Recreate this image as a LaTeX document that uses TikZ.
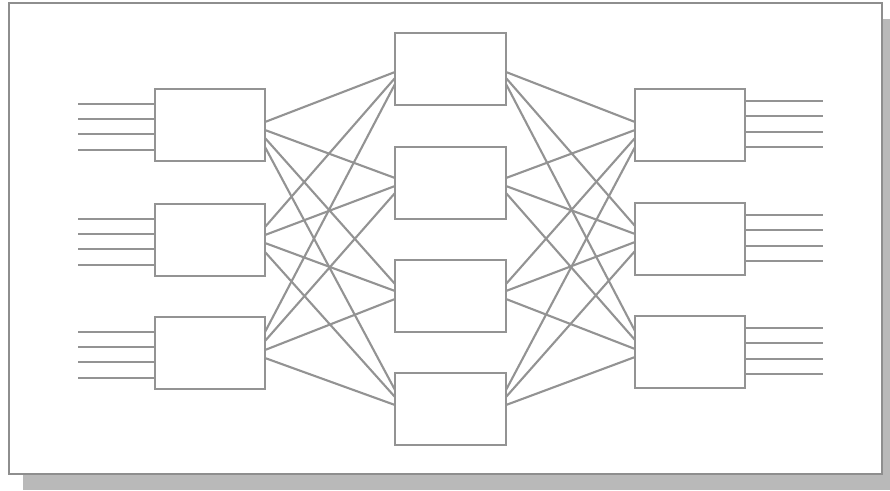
\documentclass[tikz,border=0pt]{standalone}
\usetikzlibrary{calc}
\definecolor{linegray}{HTML}{939393}
\definecolor{framegray}{HTML}{8E8E8E}
\definecolor{shadowgray}{HTML}{B9B9B9}
\begin{document}
\begin{tikzpicture}[x=1pt,y=-1pt,
  sw/.style={draw=linegray,line width=2.3pt,fill=white,rectangle,inner sep=0pt,outer sep=0pt,anchor=north west,minimum height=72pt},
  sidebox/.style={sw,minimum width=110pt},
  midbox/.style={sw,minimum width=111pt},
  wire/.style={draw=linegray,line width=2.1pt}]
\useasboundingbox (0,0) rectangle (890,490);
\fill[shadowgray] (23,19) rectangle (890,490);
\draw[framegray,line width=2.4pt,fill=white] (9,3) rectangle (882,474);
% boxes
\node[sidebox] (L1) at (155,89) {};
\node[sidebox] (L2) at (155,204) {};
\node[sidebox] (L3) at (155,317) {};
\node[midbox] (M1) at (395,33) {};
\node[midbox] (M2) at (395,147) {};
\node[midbox] (M3) at (395,260) {};
\node[midbox] (M4) at (395,373) {};
\node[sidebox] (R1) at (635,89) {};
\node[sidebox] (R2) at (635,203) {};
\node[sidebox] (R3) at (635,316) {};
% input / output lines
\foreach \b in {L1,L2,L3}{
  \foreach \o in {15,30,45,61}{
    \draw[wire] ([yshift=-\o pt]\b.north west) -- ++(-77,0);
  }
}
\foreach \b in {R1,R2,R3}{
  \foreach \o in {12,27,43,58}{
    \draw[wire] ([yshift=-\o pt]\b.north east) -- ++(78,0);
  }
}
% port offsets: side boxes (to mid 1..4), mid boxes (from side 1..3)
\def\sideoff#1#2{\ifcase#1\or
  \ifcase#2\or 33\or 41\or 49\or 58\fi\or
  \ifcase#2\or 23\or 31\or 39\or 48\fi\or
  \ifcase#2\or 15\or 24\or 33\or 41\fi\fi}
\def\midoff#1#2{\ifcase#1\or
  \ifcase#2\or 39\or 45\or 51\fi\or
  \ifcase#2\or 31\or 39\or 46\fi\or
  \ifcase#2\or 24\or 31\or 39\fi\or
  \ifcase#2\or 17\or 24\or 32\fi\fi}
\foreach \j in {1,2,3}{
  \foreach \i in {1,2,3,4}{
    \draw[wire] ([yshift=-\sideoff{\j}{\i} pt]L\j.north east) -- ([yshift=-\midoff{\i}{\j} pt]M\i.north west);
    \draw[wire] ([yshift=-\sideoff{\j}{\i} pt]R\j.north west) -- ([yshift=-\midoff{\i}{\j} pt]M\i.north east);
  }
}
\end{tikzpicture}
\end{document}
